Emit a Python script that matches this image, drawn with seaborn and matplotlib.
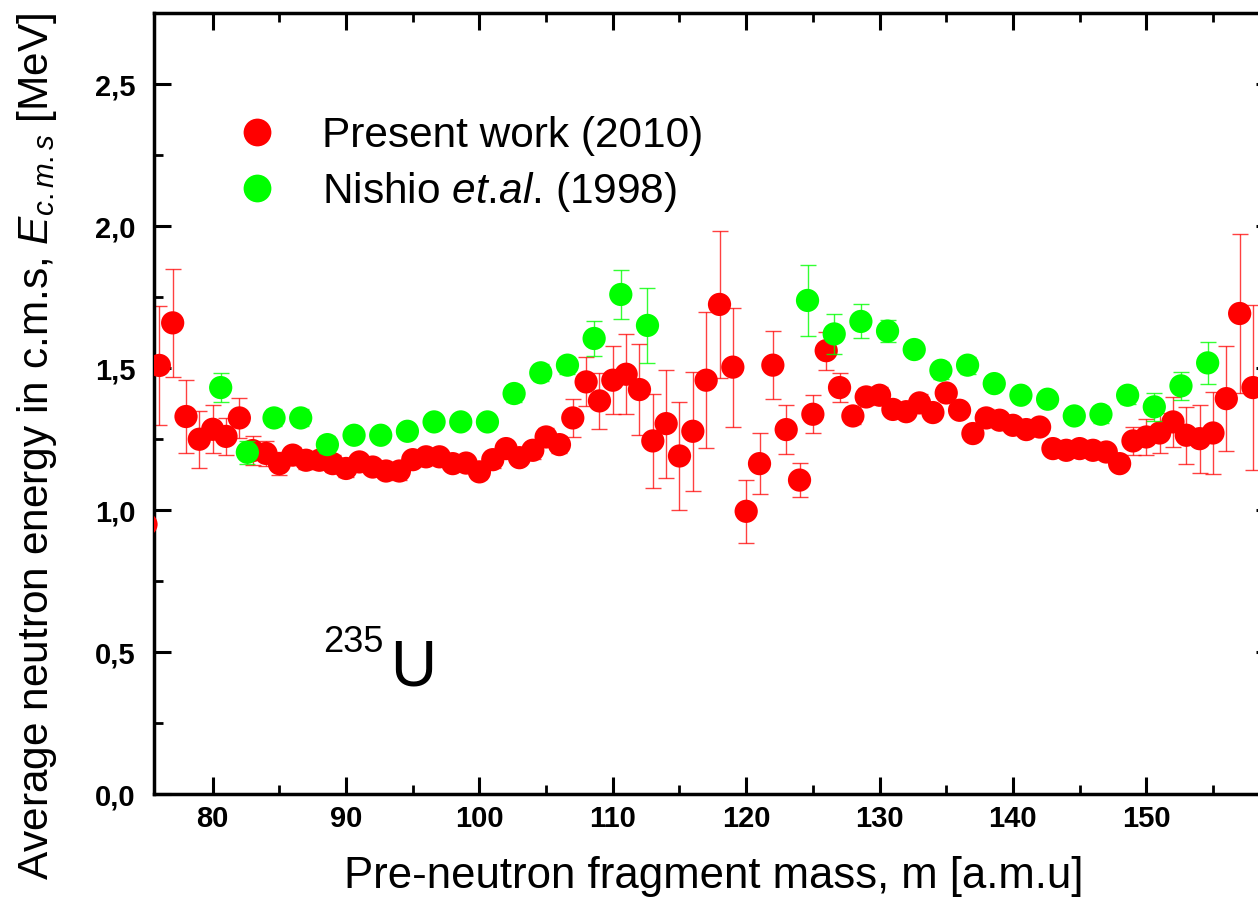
"""Average neutron energy in c.m.s vs pre-neutron fragment mass (235U)."""

import matplotlib

matplotlib.use("Agg")
import matplotlib.pyplot as plt
from matplotlib.lines import Line2D
from matplotlib.ticker import MultipleLocator, FuncFormatter
import numpy as np
import pandas as pd
import seaborn as sns

# Present work (2010)
present_mass = list(range(75, 159))
present_energy = [
    0.95, 1.51, 1.66, 1.33, 1.25, 1.285, 1.26, 1.325, 1.21, 1.20,
    1.164, 1.194, 1.176, 1.176, 1.164, 1.147, 1.170, 1.152, 1.138, 1.138,
    1.178, 1.188, 1.188, 1.164, 1.166, 1.135, 1.178, 1.217, 1.185, 1.211,
    1.258, 1.231, 1.325, 1.452, 1.385, 1.458, 1.479, 1.425, 1.244, 1.305,
    1.191, 1.278, 1.458, 1.725, 1.504, 0.996, 1.164, 1.511, 1.284, 1.106,
    1.338, 1.562, 1.432, 1.332, 1.399, 1.405, 1.355, 1.347, 1.378, 1.344,
    1.413, 1.352, 1.270, 1.325, 1.317, 1.299, 1.284, 1.293, 1.217, 1.211,
    1.217, 1.211, 1.205, 1.164, 1.244, 1.258, 1.272, 1.311, 1.264, 1.252,
    1.272, 1.393, 1.693, 1.432,
]
present_err = [
    0.16, 0.21, 0.19, 0.13, 0.10, 0.085, 0.065, 0.07, 0.05, 0.045,
    0.04, 0.03, 0.03, 0.03, 0.03, 0.03, 0.02, 0.02, 0.02, 0.03,
    0.02, 0.02, 0.02, 0.02, 0.02, 0.025, 0.03, 0.02, 0.02, 0.03,
    0.03, 0.03, 0.067, 0.086, 0.10, 0.12, 0.14, 0.16, 0.167, 0.19,
    0.19, 0.21, 0.24, 0.26, 0.21, 0.11, 0.107, 0.12, 0.087, 0.06,
    0.067, 0.067, 0.05, 0.03, 0.03, 0.03, 0.02, 0.02, 0.03, 0.02,
    0.02, 0.02, 0.02, 0.03, 0.02, 0.02, 0.02, 0.02, 0.02, 0.02,
    0.03, 0.02, 0.02, 0.02, 0.05, 0.065, 0.07, 0.087, 0.10, 0.12,
    0.146, 0.186, 0.28, 0.29,
]

# Nishio et.al. (1998)
nishio_mass = [
    80.6, 82.6, 84.6, 86.6, 88.6, 90.6, 92.6, 94.6, 96.6, 98.6,
    100.6, 102.6, 104.6, 106.6, 108.6, 110.6, 112.6,
    124.6, 126.6, 128.6, 130.6, 132.6, 134.6, 136.6, 138.6, 140.6,
    142.6, 144.6, 146.6, 148.6, 150.6, 152.6, 154.6,
]
nishio_energy = [
    1.432, 1.204, 1.325, 1.325, 1.231, 1.264, 1.264, 1.278, 1.311, 1.311,
    1.311, 1.411, 1.484, 1.511, 1.605, 1.760, 1.651,
    1.739, 1.621, 1.665, 1.631, 1.566, 1.493, 1.511, 1.446, 1.405,
    1.391, 1.332, 1.338, 1.405, 1.364, 1.438, 1.519,
]
nishio_err = [
    0.05, 0.04, 0.03, 0.03, 0.03, 0.02, 0.02, 0.02, 0.02, 0.02,
    0.02, 0.03, 0.03, 0.03, 0.06, 0.087, 0.133,
    0.126, 0.07, 0.06, 0.04, 0.02, 0.03, 0.03, 0.02, 0.02,
    0.02, 0.02, 0.03, 0.03, 0.05, 0.05, 0.073,
]

RED = "#ff0000"
GREEN = "#00ff00"

sns.set_theme(style="ticks")
plt.rcParams["font.family"] = ["Liberation Sans", "DejaVu Sans"]
plt.rcParams["mathtext.fontset"] = "custom"
plt.rcParams["mathtext.rm"] = "Liberation Sans"
plt.rcParams["mathtext.it"] = "Liberation Sans:italic"
for key in ["text.color", "axes.labelcolor", "xtick.color", "ytick.color", "axes.edgecolor"]:
    plt.rcParams[key] = "black"

present = pd.DataFrame({"mass": present_mass, "energy": present_energy, "err": present_err})
nishio = pd.DataFrame({"mass": nishio_mass, "energy": nishio_energy, "err": nishio_err})

W, H = 1258, 905
fig = plt.figure(figsize=(W / 100, H / 100), dpi=100)
# the right spine sits just past the right edge of the picture, as in the original
ax = fig.add_axes([154 / W, 1 - 794 / H, (1273 - 154) / W, (794 - 13.5) / H])

ax.errorbar(present["mass"], present["energy"], yerr=present["err"], fmt="none",
            ecolor=RED, alpha=0.75, elinewidth=1, capsize=5.5, capthick=1, zorder=2)
sns.scatterplot(data=present, x="mass", y="energy", color=RED, s=280,
                edgecolor="none", linewidth=0, ax=ax, zorder=3)
ax.errorbar(nishio["mass"], nishio["energy"], yerr=nishio["err"], fmt="none",
            ecolor=GREEN, alpha=0.8, elinewidth=1, capsize=5.5, capthick=1, zorder=4)
sns.scatterplot(data=nishio, x="mass", y="energy", color=GREEN, s=280,
                edgecolor="none", linewidth=0, ax=ax, zorder=5)

ax.set_xlim(75.6, 159.5)
ax.set_ylim(0, 2.75)
ax.xaxis.set_major_locator(MultipleLocator(10))
ax.xaxis.set_minor_locator(MultipleLocator(5))
ax.yaxis.set_major_locator(MultipleLocator(0.5))
ax.yaxis.set_minor_locator(MultipleLocator(0.25))
ax.yaxis.set_major_formatter(FuncFormatter(lambda v, _: f"{v:.1f}".replace(".", ",")))

for side in ["left", "right", "top", "bottom"]:
    ax.spines[side].set_linewidth(2.5)
    ax.spines[side].set_color("black")
ax.tick_params(which="both", direction="in", top=True, right=True, color="black")
ax.tick_params(which="major", length=12, width=2.2, labelsize=21)
ax.tick_params(which="minor", length=6.5, width=2.0)
ax.tick_params(axis="y", which="major", pad=13)
ax.tick_params(axis="x", which="major", pad=8)
for lab in ax.get_xticklabels() + ax.get_yticklabels():
    lab.set_fontweight("bold")

ax.set_xlabel("Pre-neutron fragment mass, m [a.m.u]", fontsize=31.5)
ax.set_ylabel("Average neutron energy in c.m.s, $E_{\\mathit{c.m.s}}$ [MeV]", fontsize=30.5)
ax.xaxis.set_label_coords(0.5, -0.08)
ax.yaxis.set_label_coords(-0.085, 0.445)

handles = [
    Line2D([], [], ls="none", marker="o", ms=20, mfc=RED, mec="none"),
    Line2D([], [], ls="none", marker="o", ms=20, mfc=GREEN, mec="none"),
]
labels = ["Present work (2010)", "Nishio $\\it{et}$.$\\it{al}$. (1998)"]
ax.legend(handles, labels, loc="upper left", frameon=False, fontsize=30.5,
          bbox_to_anchor=(230 / W, 1 - 116 / H), bbox_transform=fig.transFigure,
          borderpad=0, borderaxespad=0, handlelength=1.28, handletextpad=0.88,
          labelspacing=0.32)

fig.text(323 / W, 1 - 652 / H, "235", fontsize=26, va="baseline", ha="left")
fig.text(390 / W, 1 - 685 / H, "U", fontsize=46, va="baseline", ha="left")

fig.savefig("out.png", dpi=100)
plt.close(fig)
